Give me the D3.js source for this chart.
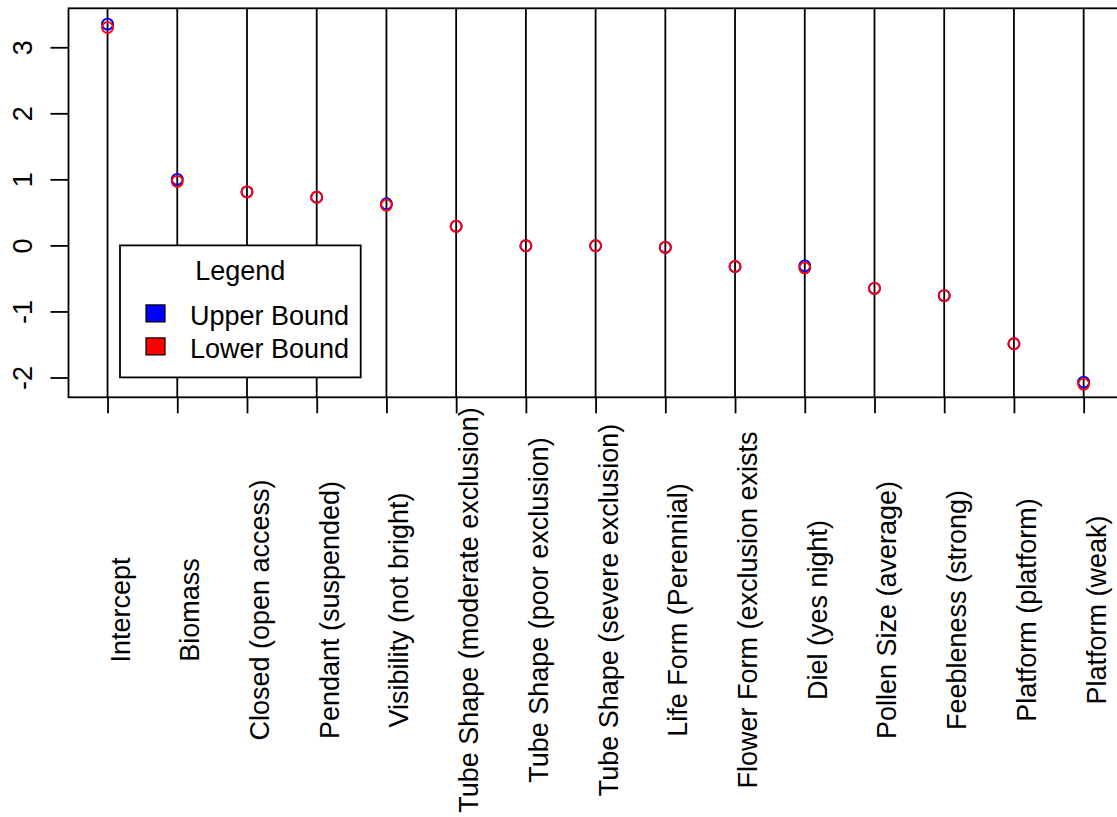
<!DOCTYPE html>
<html>
<head>
<meta charset="utf-8">
<script src="https://cdn.jsdelivr.net/npm/d3@7"></script>
<style>
  html, body { margin: 0; padding: 0; background: #fff; }
  svg { display: block; }
  text { font-family: "Liberation Sans", Arial, Helvetica, sans-serif; fill: #000; }
</style>
</head>
<body>
<svg id="chart" width="1117" height="817"></svg>
<script>
const categories = [
  "Intercept", "Biomass", "Closed (open access)", "Pendant (suspended)",
  "Visibility (not bright)", "Tube Shape (moderate exclusion)",
  "Tube Shape (poor exclusion)", "Tube Shape (severe exclusion)",
  "Life Form (Perennial)", "Flower Form (exclusion exists",
  "Diel (yes night)", "Pollen Size (average)", "Feebleness (strong)",
  "Platform (platform)", "Platform (weak)"
];
const upperBound = [3.35, 1.00, 0.81, 0.73, 0.63, 0.29, -0.005, -0.005, -0.03, -0.32, -0.31, -0.65, -0.76, -1.49, -2.07];
const lowerBound = [3.30, 0.97, 0.81, 0.73, 0.61, 0.29, -0.005, -0.005, -0.03, -0.32, -0.34, -0.65, -0.76, -1.49, -2.10];
const yTicks = [-2, -1, 0, 1, 2, 3];
const legendTitle = "Legend";
const legendLabels = ["Upper Bound", "Lower Bound"];
const seriesColors = ["#0000FF", "#FF0000"];

const svg = d3.select("#chart");
const FS = 27;
const plot = { left: 68.5, top: 8.3, right: 1122.7, bottom: 397.3 };

const x = d3.scaleLinear().domain([0.44, categories.length + 0.56]).range([plot.left, plot.right]);
const y = d3.scaleLinear().domain([-2.30, 3.59]).range([plot.bottom, plot.top]);

// vertical reference lines
svg.append("g").selectAll("line").data(categories).join("line")
  .attr("x1", (d, i) => x(i + 1)).attr("x2", (d, i) => x(i + 1))
  .attr("y1", plot.top).attr("y2", plot.bottom)
  .attr("stroke", "#000").attr("stroke-width", 1.8);

// points: upper (blue) then lower (red)
[upperBound, lowerBound].forEach((vals, s) => {
  svg.append("g").selectAll("circle").data(vals).join("circle")
    .attr("cx", (d, i) => x(i + 1)).attr("cy", d => y(d))
    .attr("r", 5.5).attr("fill", "none")
    .attr("stroke", seriesColors[s]).attr("stroke-width", 1.9);
});

// box
svg.append("rect")
  .attr("x", plot.left).attr("y", plot.top)
  .attr("width", plot.right - plot.left).attr("height", plot.bottom - plot.top)
  .attr("fill", "none").attr("stroke", "#000").attr("stroke-width", 1.8);

// y axis
const yAxis = svg.append("g").attr("transform", `translate(${plot.left},0)`)
  .call(d3.axisLeft(y).tickValues(yTicks).tickSize(18).tickFormat(d3.format("d")));
yAxis.select(".domain").remove();
yAxis.selectAll(".tick line").attr("stroke", "#000").attr("stroke-width", 1.8);
yAxis.selectAll(".tick text")
  .attr("x", null).attr("dy", null)
  .attr("text-anchor", "middle")
  .attr("font-size", FS)
  .attr("font-family", "Liberation Sans, Arial, sans-serif")
  .attr("transform", "translate(-37,0) rotate(-90)")
  .text(d => d < 0 ? "-" + Math.abs(d) : d);

// x axis ticks and labels
const xAxis = svg.append("g").attr("transform", `translate(0,${plot.bottom})`)
  .call(d3.axisBottom(x).tickValues(d3.range(1, categories.length + 1)).tickSize(16).tickFormat(i => categories[i - 1]));
xAxis.select(".domain").remove();
xAxis.selectAll(".tick line").attr("stroke", "#000").attr("stroke-width", 1.8);
xAxis.selectAll(".tick text")
  .attr("y", null).attr("dy", null)
  .attr("text-anchor", "middle")
  .attr("font-size", FS)
  .attr("font-family", "Liberation Sans, Arial, sans-serif")
  .attr("transform", `translate(21.5,${610 - plot.bottom}) rotate(-90)`);

// legend
const lg = { x: 120, y: y(0), w: 240.7, h: 132 };
const legend = svg.append("g");
legend.append("rect").attr("x", lg.x).attr("y", lg.y).attr("width", lg.w).attr("height", lg.h)
  .attr("fill", "#fff").attr("stroke", "#000").attr("stroke-width", 1.8);
legend.append("text").attr("x", lg.x + lg.w / 2).attr("y", lg.y + 35)
  .attr("text-anchor", "middle").attr("font-size", FS).text(legendTitle);
legendLabels.forEach((lab, i) => {
  const cy = lg.y + 68 + i * 33;
  legend.append("rect").attr("x", 146).attr("y", cy - 8.5).attr("width", 19).attr("height", 17)
    .attr("fill", seriesColors[i]).attr("stroke", "#000").attr("stroke-width", 1.2);
  legend.append("text").attr("x", 190).attr("y", cy + 12)
    .attr("font-size", FS).text(lab);
});
</script>
</body>
</html>
